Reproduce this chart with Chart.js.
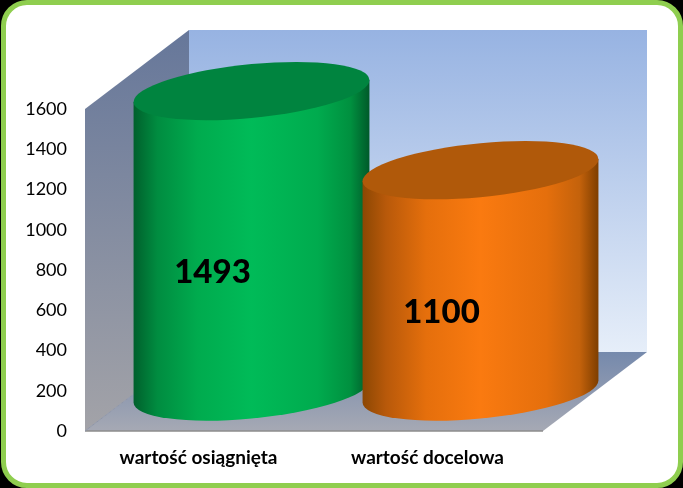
<!DOCTYPE html>
<html>
<head>
<meta charset="utf-8">
<style>
html,body{margin:0;padding:0;background:#000;width:683px;height:488px;overflow:hidden}
#frame{position:absolute;left:1px;top:0;width:672px;height:478px;border:5px solid #8fce4f;border-radius:26px;background:#fff}
canvas{position:absolute;left:0;top:0}
</style>
<script src="https://cdn.jsdelivr.net/npm/chart.js@4"></script>
</head>
<body>
<div id="frame"></div>
<canvas id="c" width="683" height="488"></canvas>
<script>
const categories = ['wartość osiągnięta', 'wartość docelowa'];
const values = [1493, 1100];
const barColors = ['#00b050', '#f97a0f'];
const tickMax = 1600;
const tickStep = 200;

const DX = 104, DY = -79;      // 3D depth offset of the back wall
const SKEW = 11;               // end-point rise of the tilted ellipse
const RY = 27;                 // vertical half axis of the ellipse

const shades = [
  {edgeL:'#00602c', near:'#008c40', mid:'#00ab4e', light:'#00bb58', edgeR:'#005a2a', nearR:'#00903f'},
  {edgeL:'#8c4703', near:'#b8590a', mid:'#e56f0c', light:'#fa7a10', edgeR:'#7e3e00', nearR:'#c4620b'}
];
const topColors = ['#00843f', '#b0590a'];

function ellipsePath(ctx, cx, cy, rx, start, end) {
  ctx.save();
  ctx.translate(cx, cy);
  ctx.transform(1, -SKEW / rx, 0, 1, 0, 0);
  ctx.ellipse(0, 0, rx, RY, 0, start, end, start > end);
  ctx.restore();
}

const walls = {
  id: 'walls',
  beforeDatasetsDraw(chart) {
    const {ctx, chartArea: a} = chart;
    const l = a.left, r = a.right, t = a.top, b = a.bottom;
    ctx.save();
    let g = ctx.createLinearGradient(0, t + DY, 0, b + DY);
    g.addColorStop(0, '#97b3e2'); g.addColorStop(1, '#e6eef9');
    ctx.fillStyle = g;
    ctx.fillRect(l + DX, t + DY, r - l, b - t);
    g = ctx.createLinearGradient(0, t + DY, 0, b);
    g.addColorStop(0, '#66779a'); g.addColorStop(1, '#a3a3a8');
    ctx.fillStyle = g;
    ctx.beginPath();
    ctx.moveTo(l, t); ctx.lineTo(l + DX, t + DY); ctx.lineTo(l + DX, b + DY); ctx.lineTo(l, b);
    ctx.closePath(); ctx.fill();
    g = ctx.createLinearGradient(0, b + DY, 0, b);
    g.addColorStop(0, '#7589ac'); g.addColorStop(1, '#a6a9b4');
    ctx.fillStyle = g;
    ctx.beginPath();
    ctx.moveTo(l, b); ctx.lineTo(l + DX, b + DY); ctx.lineTo(r + DX, b + DY); ctx.lineTo(r, b);
    ctx.closePath(); ctx.fill();
    ctx.strokeStyle = '#8c8c8c'; ctx.lineWidth = 1.5;
    ctx.beginPath(); ctx.moveTo(l, b); ctx.lineTo(r, b); ctx.stroke();
    ctx.strokeStyle = '#8f96a8'; ctx.lineWidth = 1;
    ctx.beginPath(); ctx.moveTo(l, b); ctx.lineTo(l + DX, b + DY); ctx.stroke();
    ctx.restore();
  }
};

const cylinders = {
  id: 'cylinders',
  beforeDatasetDraw(chart, args) {
    const {ctx} = chart;
    args.meta.data.forEach((bar, i) => {
      const cx = bar.x + DX / 2, rx = bar.width / 2;
      const topY = bar.y + DY / 2, baseY = bar.base + DY / 2;
      const s = shades[i];
      const g = ctx.createLinearGradient(cx - rx, 0, cx + rx, 0);
      g.addColorStop(0, s.edgeL); g.addColorStop(0.1, s.near); g.addColorStop(0.27, s.mid);
      g.addColorStop(0.5, s.light); g.addColorStop(0.78, s.mid); g.addColorStop(0.92, s.nearR);
      g.addColorStop(1, s.edgeR);
      ctx.save();
      ctx.fillStyle = g;
      ctx.beginPath();
      ctx.moveTo(cx - rx, topY + SKEW);
      ctx.lineTo(cx - rx, baseY + SKEW);
      ellipsePath(ctx, cx, baseY, rx, Math.PI, 0);
      ctx.lineTo(cx + rx, topY - SKEW);
      ctx.closePath();
      ctx.fill();
      ctx.beginPath();
      ellipsePath(ctx, cx, topY, rx, 0, Math.PI * 2);
      ctx.closePath();
      ctx.fillStyle = topColors[i];
      ctx.fill();
      ctx.restore();
    });
    return false;
  },
  afterDraw(chart) {
    const {ctx} = chart;
    const meta = chart.getDatasetMeta(0);
    ctx.save();
    ctx.font = '900 33px Lato';
    ctx.fillStyle = '#000';
    ctx.textAlign = 'center';
    ctx.textBaseline = 'middle';
    meta.data.forEach((bar, i) => {
      ctx.fillText(String(values[i]), bar.x + 13, (bar.y + bar.base) / 2 - 8);
    });
    ctx.restore();
  }
};

new Chart(document.getElementById('c'), {
  type: 'bar',
  data: {
    labels: categories,
    datasets: [{
      data: values,
      backgroundColor: barColors,
      categoryPercentage: 1,
      barPercentage: 1.03
    }]
  },
  plugins: [walls, cylinders],
  options: {
    responsive: false,
    animation: false,
    events: [],
    layout: {padding: {left: 10, top: 109, right: 140, bottom: 0}},
    plugins: {legend: {display: false}, title: {display: false}, tooltip: {enabled: false}},
    scales: {
      x: {
        grid: {display: false, drawTicks: false},
        border: {display: false},
        ticks: {color: '#000', font: {family: 'Lato', size: 19, weight: 'bold'}, padding: 15, maxRotation: 0, labelOffset: -1},
        afterFit(s) { s.height = 57; }
      },
      y: {
        min: 0, max: tickMax,
        grid: {display: false, drawTicks: false},
        border: {display: false},
        ticks: {stepSize: tickStep, color: '#000', font: {family: 'Lato', size: 18}, padding: 18, callback: v => String(v)},
        afterFit(s) { s.width = 75; }
      }
    }
  }
});
</script>
</body>
</html>
